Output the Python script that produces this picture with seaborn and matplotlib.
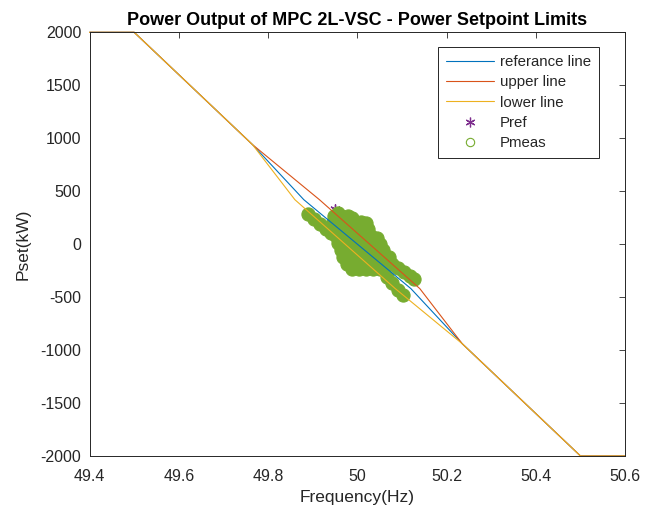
import matplotlib
matplotlib.use('Agg')
import matplotlib.pyplot as plt
from matplotlib.lines import Line2D
import seaborn as sns
import pandas as pd

# droop lines (frequency in Hz, power in kW)
ref_f = [49.4, 49.5, 49.765, 49.88, 50.12, 50.235, 50.5, 50.6]
upper_f = [49.4, 49.5, 49.765, 49.915, 50.14, 50.235, 50.5, 50.6]
lower_f = [49.4, 49.5, 49.765, 49.86, 50.085, 50.235, 50.5, 50.6]
line_p = [2000, 2000, 940, 420, -420, -940, -2000, -2000]

pref_f = [49.950, 50.0, 50.04]
pref_p = [330, 0, -150]

pmeas_f = [
    49.889, 49.903, 49.916, 49.930, 49.941,
    49.948, 49.956, 49.963, 49.979, 49.988,
    49.945, 49.961, 49.977, 49.992, 50.008, 50.019,
    49.945, 49.961, 49.977, 49.992, 50.008, 50.024,
    49.952, 49.968, 49.983, 49.999, 50.015, 50.030, 50.044,
    49.957, 49.972, 49.988, 50.004, 50.019, 50.035, 50.051,
    49.963, 49.979, 49.995, 50.010, 50.026, 50.041, 50.057,
    49.968, 49.983, 49.999, 50.015, 50.030, 50.046, 50.062, 50.071,
    49.977, 49.992, 50.008, 50.024, 50.039, 50.055, 50.071, 50.077,
    49.988, 50.004, 50.019, 50.035, 50.051,
    50.091, 50.104, 50.118, 50.127,
    50.066, 50.077, 50.091, 50.102,
]
pmeas_p = [
    285, 238, 191, 143, 105,
    266, 290, 266, 266, 250,
    209, 209, 209, 209, 209, 200,
    143, 143, 143, 143, 143, 143,
    77, 77, 77, 77, 77, 77, 60,
    11, 11, 11, 11, 11, 11, 0,
    -55, -55, -55, -55, -55, -55, -55,
    -121, -121, -121, -121, -121, -121, -121, -121,
    -187, -187, -187, -187, -187, -187, -187, -187,
    -234, -234, -234, -234, -234,
    -225, -263, -300, -328,
    -310, -367, -433, -480,
]

c_ref = '#0072BD'
c_up = '#D95319'
c_low = '#EDB120'
c_pref = '#7E2F8E'
c_meas = '#77AC30'

lines = pd.DataFrame({
    'f': ref_f + upper_f + lower_f,
    'p': line_p * 3,
    'name': ['referance line'] * len(ref_f) + ['upper line'] * len(upper_f)
            + ['lower line'] * len(lower_f),
})

sns.set_theme(style='white')
plt.rcParams['font.family'] = ['Liberation Sans', 'DejaVu Sans']
plt.rcParams['axes.unicode_minus'] = False

fig = plt.figure(figsize=(6.56, 5.11), dpi=100)
ax = fig.add_axes([0.1365, 0.1076, 0.8165, 0.8292])

sns.lineplot(data=lines, x='f', y='p', hue='name', sort=False,
             palette={'referance line': c_ref, 'upper line': c_up, 'lower line': c_low},
             linewidth=0.8, legend=False, clip_on=False, ax=ax)
sns.scatterplot(x=pref_f, y=pref_p, marker=(6, 2, 0), s=45, color=c_pref,
                edgecolor=c_pref, linewidth=1.0, ax=ax)
sns.scatterplot(x=pmeas_f, y=pmeas_p, marker='o', s=90, color=c_meas,
                edgecolor=c_meas, linewidth=0.8, ax=ax)

ax.set_xlim(49.4, 50.6)
ax.set_ylim(-2000, 2000)
ax.set_xticks([49.4, 49.6, 49.8, 50.0, 50.2, 50.4, 50.6])
ax.set_xticklabels(['49.4', '49.6', '49.8', '50', '50.2', '50.4', '50.6'])
ax.set_yticks(range(-2000, 2001, 500))
ax.tick_params(direction='in', top=True, right=True, length=4, width=0.6,
               labelsize=11.5, colors='#262626')
ax.tick_params(axis='x', pad=9)
ax.tick_params(axis='y', pad=6)
for s in ax.spines.values():
    s.set_color('#262626')
    s.set_linewidth(0.7)

ax.set_xlabel('Frequency(Hz)', fontsize=12.5, color='#262626', labelpad=5)
ax.set_ylabel('Pset(kW)', fontsize=12.5, color='#262626', labelpad=7)
ax.set_title('Power Output of MPC 2L-VSC - Power Setpoint Limits',
             fontsize=13, fontweight='bold', color='black', pad=5)

handles = [
    Line2D([], [], color=c_ref, lw=0.8),
    Line2D([], [], color=c_up, lw=0.8),
    Line2D([], [], color=c_low, lw=0.8),
    Line2D([], [], color=c_pref, lw=0, marker=(6, 2, 0), markersize=7, markeredgewidth=0.9),
    Line2D([], [], color=c_meas, lw=0, marker='o', markersize=6,
           markerfacecolor='none', markeredgewidth=0.8),
]
labels = ['referance line', 'upper line', 'lower line', 'Pref', 'Pmeas']
leg = ax.legend(handles, labels, loc='upper right', bbox_to_anchor=(0.952, 0.966),
                borderaxespad=0, fancybox=False, framealpha=1, edgecolor='#262626',
                fontsize=10.8, handlelength=3.2, labelspacing=0.42, handletextpad=0.4,
                borderpad=0.55)
leg.get_frame().set_linewidth(0.7)

plt.savefig('out.png', dpi=100)
